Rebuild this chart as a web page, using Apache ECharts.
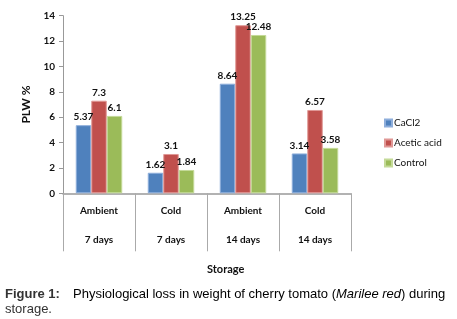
<!DOCTYPE html>
<html><head><meta charset="utf-8">
<script src="https://cdn.jsdelivr.net/npm/echarts@6/dist/echarts.min.js"></script>
<style>html,body{margin:0;padding:0;background:#fff}#c{width:457px;height:319px}</style>
</head><body><div id="c"></div>
<script>
const conditions = ['Ambient', 'Cold', 'Ambient', 'Cold'];
const durations = ['7 days', '7 days', '14 days', '14 days'];
const seriesNames = ['CaCl2', 'Acetic acid', 'Control'];
const cacl2 = [5.37, 1.62, 8.64, 3.14];
const acetic = [7.3, 3.1, 13.25, 6.57];
const control = [6.1, 1.84, 12.48, 3.58];
const yTicks = [0, 2, 4, 6, 8, 10, 12, 14];

const colors = ['#4F81BD', '#C0504D', '#9BBB59'];
const borders = ['#8eaedb', '#e09896', '#c4da98'];
const F = 'Lato, "Open Sans", sans-serif';
const CF = '"Liberation Sans", Arial, sans-serif';
const chart = echarts.init(document.getElementById('c'), null, {renderer: 'canvas'});
const cats = conditions.map((c, i) => c + '\n' + durations[i]);
const mk = (name, data, i) => ({
  name, type: 'bar', data, barWidth: 15.5, barGap: '0%',
  itemStyle: {color: colors[i], borderColor: borders[i], borderWidth: 1},
  label: {show: true, position: 'top', distance: 3, color: '#111', fontFamily: F, fontWeight: 'bold', fontSize: 10}
});
chart.setOption({
  animation: false,
  textStyle: {fontFamily: F},
  grid: {left: 63, right: 106, top: 15.7, bottom: 125.7, containLabel: false},
  legend: {
    orient: 'vertical', left: 384, top: 118, padding: 0, itemWidth: 7, itemHeight: 7, itemGap: 10,
    icon: 'rect', data: seriesNames,
    textStyle: {fontFamily: F, fontSize: 10, color: '#111', padding: [0, 0, 0, -3]}
  },
  xAxis: {
    type: 'category', data: cats,
    axisLine: {lineStyle: {color: '#999', width: 1.5}},
    axisTick: {show: true, length: 58, lineStyle: {color: '#aaa'}},
    axisLabel: {
      margin: 3, fontFamily: F, fontWeight: 'bold', fontSize: 10, color: '#111', lineHeight: 29
    }
  },
  yAxis: {
    type: 'value', min: yTicks[0], max: yTicks[yTicks.length - 1], interval: 2,
    name: 'PLW %', nameLocation: 'middle', nameGap: 28, nameRotate: 90,
    nameTextStyle: {fontFamily: F, fontWeight: 'bold', fontSize: 12, color: '#111'},
    axisLine: {show: true, lineStyle: {color: '#999'}},
    axisTick: {show: true, length: 4, lineStyle: {color: '#999'}},
    splitLine: {show: false},
    axisLabel: {margin: 8, fontFamily: F, fontWeight: 'bold', fontSize: 10, color: '#111'}
  },
  series: [mk(seriesNames[0], cacl2, 0), mk(seriesNames[1], acetic, 1), mk(seriesNames[2], control, 2)],
  graphic: [
    {type: 'text', left: 207, top: 264, style: {text: 'Storage', font: 'bold 11px ' + F, fill: '#111'}},
    {type: 'text', left: 5, top: 288, style: {text: 'Figure 1:', font: 'bold 13px ' + CF, fill: '#333'}},
    {type: 'text', left: 73, top: 288, style: {
      rich: {
        n: {fontFamily: CF, fontSize: 13, color: '#333'},
        i: {fontFamily: CF, fontSize: 13, fontStyle: 'italic', color: '#333'}
      },
      text: '{n|Physiological loss in weight of cherry tomato (}{i|Marilee red}{n|) during}'
    }},
    {type: 'text', left: 5, top: 303, style: {text: 'storage.', font: '13px ' + CF, fill: '#333'}}
  ]
});
</script></body></html>
